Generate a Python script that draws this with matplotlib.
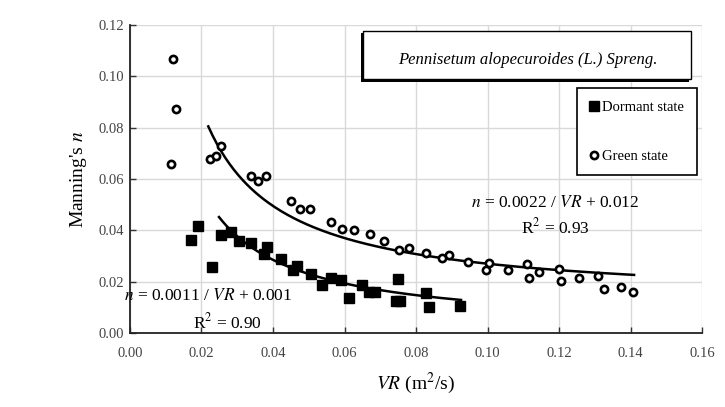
import numpy as np
import matplotlib
matplotlib.use("Agg")
import matplotlib.pyplot as plt
from matplotlib.patches import Rectangle

plt.rcParams['font.family'] = ['Liberation Serif', 'DejaVu Serif']
plt.rcParams['mathtext.fontset'] = 'stix'

# dormant state (VR m2/s, Manning's n)
dormant_vr = [0.0171, 0.0191, 0.0229, 0.0254, 0.0283, 0.0306, 0.0338, 0.0375, 0.0382,
              0.0422, 0.0457, 0.0468, 0.0506, 0.0537, 0.0561, 0.0590, 0.0613, 0.0650,
              0.0668, 0.0684, 0.0744, 0.0751, 0.0755, 0.0827, 0.0835, 0.0924]
dormant_n = [0.0361, 0.0417, 0.0257, 0.0383, 0.0393, 0.0360, 0.0352, 0.0307, 0.0336,
             0.0287, 0.0246, 0.0261, 0.0231, 0.0186, 0.0216, 0.0207, 0.0135, 0.0187,
             0.0159, 0.0161, 0.0124, 0.0212, 0.0125, 0.0156, 0.0103, 0.0105]

# green state
green_vr = [0.0115, 0.0120, 0.0129, 0.0224, 0.0240, 0.0255, 0.0338, 0.0357, 0.0380,
            0.0450, 0.0476, 0.0504, 0.0561, 0.0594, 0.0627, 0.0670, 0.0710, 0.0752,
            0.0780, 0.0828, 0.0874, 0.0892, 0.0945, 0.1003, 0.0996, 0.1058, 0.1110,
            0.1117, 0.1144, 0.1200, 0.1205, 0.1257, 0.1309, 0.1326, 0.1373, 0.1408]
green_n = [0.0659, 0.1068, 0.0873, 0.0678, 0.0691, 0.0729, 0.0612, 0.0591, 0.0613,
           0.0516, 0.0483, 0.0482, 0.0432, 0.0404, 0.0402, 0.0385, 0.0357, 0.0322,
           0.0331, 0.0311, 0.0291, 0.0305, 0.0277, 0.0274, 0.0244, 0.0244, 0.0268,
           0.0214, 0.0238, 0.0250, 0.0204, 0.0214, 0.0221, 0.0170, 0.0179, 0.0159]

# trend lines n = a / VR + c, as drawn
dormant_fit = (0.0011, 0.001)
dormant_range = (0.0249, 0.0926)
green_fit = (0.0015, 0.012)
green_range = (0.0219, 0.141)

fig = plt.figure(figsize=(7.25, 4.07), dpi=100)
ax = fig.add_axes([0.1793, 0.1818, 0.7890, 0.7568])

ax.grid(color='#d9d9d9', linewidth=1.0, zorder=0)
ax.set_axisbelow(True)

x1 = np.linspace(*dormant_range, 200)
ax.plot(x1, dormant_fit[0] / x1 + dormant_fit[1], color='black', lw=1.8, zorder=3)
x2 = np.linspace(*green_range, 200)
ax.plot(x2, green_fit[0] / x2 + green_fit[1], color='black', lw=1.8, zorder=3)

ax.plot(dormant_vr, dormant_n, 's', color='black', markersize=6.5,
        label='Dormant state', zorder=4)
ax.plot(green_vr, green_n, 'o', markerfacecolor='white', markeredgecolor='black',
        markeredgewidth=1.9, markersize=5.2, label='Green state', zorder=4)

ax.set_xlim(0, 0.16)
ax.set_ylim(0, 0.12)
ax.set_xticks(np.arange(0, 0.161, 0.02))
ax.set_yticks(np.arange(0, 0.121, 0.02))
ax.xaxis.set_major_formatter(matplotlib.ticker.FormatStrFormatter('%.2f'))
ax.yaxis.set_major_formatter(matplotlib.ticker.FormatStrFormatter('%.2f'))
ax.tick_params(direction='in', length=4, width=1, labelsize=10.5,
               labelcolor='#444444', color='#333333')
ax.tick_params(axis='x', pad=10)
ax.tick_params(axis='y', pad=4)
for s in ['top', 'right']:
    ax.spines[s].set_visible(False)
for s in ['left', 'bottom']:
    ax.spines[s].set_linewidth(1.3)
    ax.spines[s].set_color('#222222')

ax.set_xlabel(r'$VR$ (m$^2$/s)', fontsize=14, labelpad=8)
ax.set_ylabel(r"Manning's $n$", fontsize=14, labelpad=7)

# species box with shadowed border
tr = ax.transAxes
ax.add_patch(Rectangle((0.403, 0.815), 0.575, 0.16, transform=tr,
                       facecolor='black', edgecolor='none', zorder=5))
ax.add_patch(Rectangle((0.408, 0.825), 0.573, 0.155, transform=tr,
                       facecolor='white', edgecolor='black', lw=1.0, zorder=6))
ax.text(0.695, 0.887, 'Pennisetum alopecuroides (L.) Spreng.', transform=tr,
        fontsize=12, style='italic', ha='center', va='center', zorder=7)

leg = ax.legend(loc='upper left', bbox_to_anchor=(0.781, 0.795), borderaxespad=0,
                fontsize=10.5, labelspacing=2.45, borderpad=0.85, handlelength=0.6,
                handletextpad=0.3, fancybox=False, framealpha=1, edgecolor='black')
leg.get_frame().set_linewidth(1.2)

ax.text(0.744, 0.422, r'$n$ = 0.0022 / $VR$ + 0.012', transform=tr, fontsize=12.5,
        ha='center', va='center', zorder=7)
ax.text(0.744, 0.344, r'R$^2$ = 0.93', transform=tr, fontsize=12.5,
        ha='center', va='center', zorder=7)
ax.text(0.136, 0.120, r'$n$ = 0.0011 / $VR$ + 0.001', transform=tr, fontsize=12.5,
        ha='center', va='center', zorder=7)
ax.text(0.171, 0.036, r'R$^2$ = 0.90', transform=tr, fontsize=12.5,
        ha='center', va='center', zorder=7)

fig.savefig('out.png', dpi=100)
